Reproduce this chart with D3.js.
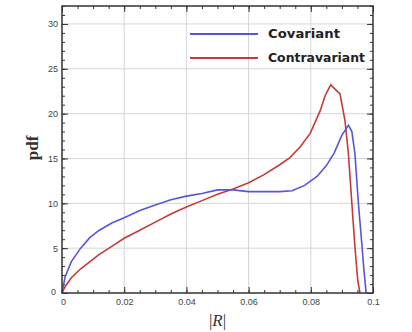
<!DOCTYPE html>
<html>
<head>
<meta charset="utf-8">
<script src="https://cdn.jsdelivr.net/npm/d3@7"></script>
<style>
  body { margin: 0; background: #fff; }
  svg { display: block; }
</style>
</head>
<body>
<div id="chart"></div>
<script>
// ---- data ----
let covX = [0, 0.001, 0.003, 0.006, 0.009, 0.012, 0.016, 0.02, 0.025, 0.03, 0.035, 0.04, 0.045, 0.05, 0.055,
    0.06, 0.065, 0.07, 0.074, 0.078, 0.082, 0.085, 0.0875, 0.09, 0.0921, 0.0932, 0.0942, 0.0953, 0.0964, 0.0971, 0.0978];
let covY = [0, 1.8, 3.5, 5.0, 6.2, 7.0, 7.8, 8.4, 9.2, 9.8, 10.4, 10.8, 11.1, 11.5, 11.5,
    11.3, 11.3, 11.3, 11.4, 12.0, 13.0, 14.2, 15.6, 17.6, 18.7, 18.0, 15.5, 10.0, 5.5, 2.5, 0];

let conX = [0, 0.001, 0.003, 0.006, 0.009, 0.012, 0.016, 0.02, 0.025, 0.03, 0.035, 0.04, 0.045, 0.05, 0.055,
    0.06, 0.065, 0.07, 0.0733, 0.0766, 0.0798, 0.083, 0.0846, 0.0864, 0.0894, 0.091, 0.0921, 0.0932, 0.0942, 0.0951, 0.0958];
let conY = [0, 0.7, 1.7, 2.7, 3.5, 4.3, 5.2, 6.1, 7.0, 7.9, 8.8, 9.6, 10.3, 11.0, 11.6,
    12.3, 13.2, 14.3, 15.1, 16.3, 17.8, 20.3, 22.0, 23.2, 22.2, 19.2, 15.5, 10.0, 5.1, 1.4, 0];

let seriesNames = ["Covariant", "Contravariant"];
let seriesColors = ["#5555dd", "#c43a3a"];

let xTicks = [0, 0.02, 0.04, 0.06, 0.08, 0.1];
let xTickLabels = ["0", "0.02", "0.04", "0.06", "0.08", "0.1"];
let yTicks = [0, 5, 10, 15, 20, 25, 30];

// ---- chart size ----
let width = 412, height = 332;
let margin = { top: 6, right: 39, bottom: 39, left: 62 };
let chartWidth = width - margin.left - margin.right;
let chartHeight = height - margin.top - margin.bottom;

let svg = d3.select("#chart").append("svg")
    .attr("width", width).attr("height", height);

let chartGroup = svg.append("g")
    .attr("transform", `translate(${margin.left}, ${margin.top})`);

let xScale = d3.scaleLinear().domain([0, 0.1]).range([0, chartWidth]);
let yScale = d3.scaleLinear().domain([0, 32]).range([chartHeight, 0]);

// grid lines
chartGroup.append("g").selectAll("line.gx")
    .data(xTicks.slice(1, -1)).enter().append("line")
    .attr("x1", d => xScale(d)).attr("x2", d => xScale(d))
    .attr("y1", 0).attr("y2", chartHeight)
    .attr("stroke", "#d6d6d6").attr("stroke-width", 1);
chartGroup.append("g").selectAll("line.gy")
    .data(yTicks.slice(1)).enter().append("line")
    .attr("y1", d => yScale(d)).attr("y2", d => yScale(d))
    .attr("x1", 0).attr("x2", chartWidth)
    .attr("stroke", "#d6d6d6").attr("stroke-width", 1);

// axes (ticks pointing into the plot, on all four sides)
let xMinor = d3.range(0, 0.1001, 0.005);
let yMinor = d3.range(0, 32.01, 1);

function tickAxis(axisFn, scale, vals, size, fmt) {
    return axisFn(scale).tickValues(vals).tickSize(size).tickFormat(fmt || "");
}

// bottom
chartGroup.append("g").attr("transform", `translate(0, ${chartHeight})`)
    .call(tickAxis(d3.axisTop, xScale, xMinor, 3));
let xAxisG = chartGroup.append("g").attr("transform", `translate(0, ${chartHeight})`)
    .call(d3.axisTop(xScale).tickValues(xTicks).tickSize(6).tickFormat((d, i) => xTickLabels[i]));
xAxisG.selectAll("text").attr("y", 6).attr("dy", "0.71em");
// top
chartGroup.append("g").call(tickAxis(d3.axisBottom, xScale, xMinor, 3));
chartGroup.append("g").call(tickAxis(d3.axisBottom, xScale, xTicks, 6));
// left
chartGroup.append("g").call(tickAxis(d3.axisRight, yScale, yMinor, 3));
let yAxisG = chartGroup.append("g")
    .call(d3.axisRight(yScale).tickValues(yTicks).tickSize(6).tickFormat(d3.format("d")));
yAxisG.selectAll("text").attr("x", -4).attr("text-anchor", "end");
// right
chartGroup.append("g").attr("transform", `translate(${chartWidth}, 0)`)
    .call(tickAxis(d3.axisLeft, yScale, yMinor, 3));
chartGroup.append("g").attr("transform", `translate(${chartWidth}, 0)`)
    .call(tickAxis(d3.axisLeft, yScale, yTicks, 6));

chartGroup.selectAll(".domain").remove();
chartGroup.selectAll(".tick line").attr("stroke", "#333").attr("stroke-width", 1);
chartGroup.selectAll(".tick text")
    .attr("fill", "#444").style("font-family", "Arial, 'Liberation Sans', sans-serif").style("font-size", "9px");
// the "0" labels sit a bit off the corner
yAxisG.selectAll(".tick text").filter(d => d === 0).attr("x", -6).attr("dy", "0.2em");
xAxisG.selectAll(".tick text").filter(d => d === 0).attr("dx", "0.1em");

// curves
let line = d3.line()
    .x(d => xScale(d[0]))
    .y(d => yScale(d[1]));

let covData = covX.map((x, i) => [x, covY[i]]);
let conData = conX.map((x, i) => [x, conY[i]]);

chartGroup.append("path").datum(conData)
    .attr("d", line).attr("fill", "none")
    .attr("stroke", seriesColors[1]).attr("stroke-width", 1.6);
chartGroup.append("path").datum(covData)
    .attr("d", line).attr("fill", "none")
    .attr("stroke", seriesColors[0]).attr("stroke-width", 1.6);

// frame
chartGroup.append("rect")
    .attr("width", chartWidth).attr("height", chartHeight)
    .attr("fill", "none").attr("stroke", "#333").attr("stroke-width", 1.5);

// legend
let legend = svg.append("g");
let legendTextLen = [72, 97];
seriesNames.forEach(function (name, i) {
    let y = 34 + i * 24;
    legend.append("line")
        .attr("x1", 190).attr("x2", 258).attr("y1", y).attr("y2", y)
        .attr("stroke", seriesColors[i]).attr("stroke-width", 2);
    legend.append("text")
        .attr("x", 268).attr("y", y).attr("dy", "0.35em")
        .attr("textLength", legendTextLen[i]).attr("lengthAdjust", "spacingAndGlyphs")
        .style("font-family", "'DejaVu Sans', sans-serif")
        .style("font-size", "12px").style("font-weight", "bold")
        .attr("fill", "#222").text(name);
});

// axis titles
svg.append("text")
    .attr("transform", "translate(38, 148) rotate(-90)")
    .attr("text-anchor", "middle")
    .style("font-family", "'Liberation Serif', 'DejaVu Serif', serif")
    .style("font-size", "17px").style("font-weight", "bold")
    .attr("fill", "#333").text("pdf");

let xTitle = svg.append("text")
    .attr("x", margin.left + chartWidth / 2).attr("y", 326)
    .attr("text-anchor", "middle")
    .style("font-family", "'Liberation Serif', 'DejaVu Serif', serif")
    .style("font-size", "17px").attr("fill", "#333");
xTitle.append("tspan").text("|");
xTitle.append("tspan").style("font-style", "italic").text("R");
xTitle.append("tspan").text("|");
</script>
</body>
</html>
